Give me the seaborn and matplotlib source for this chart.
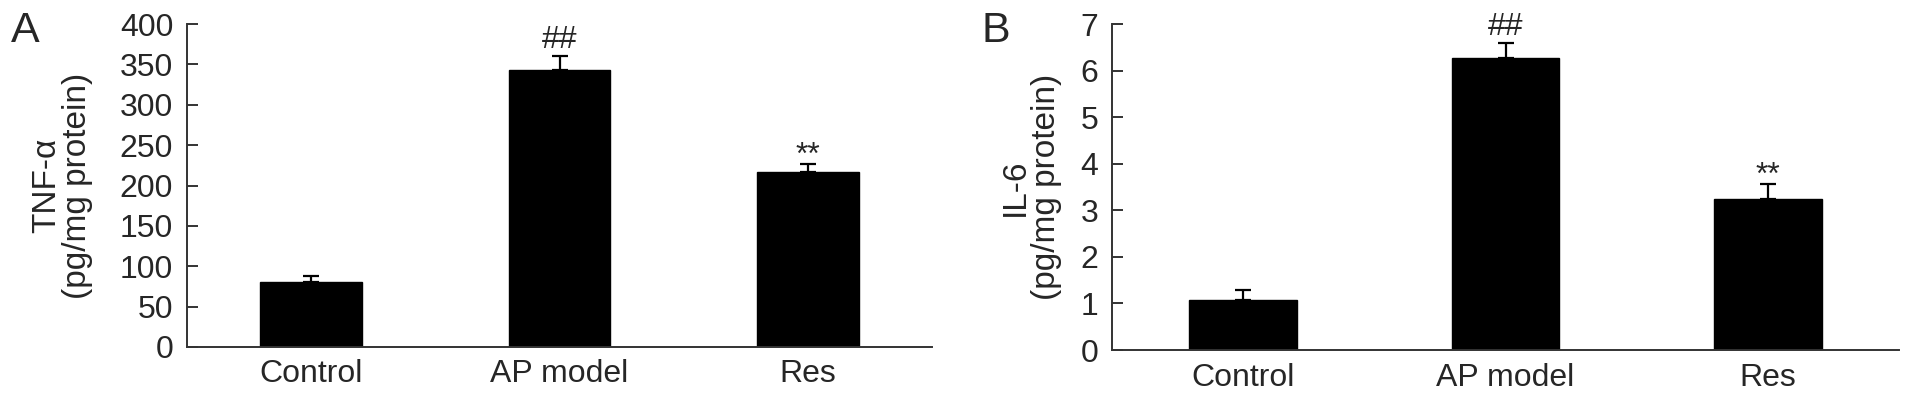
import matplotlib
matplotlib.use("Agg")
import matplotlib.pyplot as plt
import seaborn as sns
import pandas as pd

sns.set_style("white")
plt.rcParams["font.family"] = ["Liberation Sans", "DejaVu Sans"]

# Data
groups = ["Control", "AP model", "Res"]
tnf_mean = [81, 343, 217]
tnf_sd = [7, 17, 10]
il6_mean = [1.08, 6.26, 3.24]
il6_sd = [0.21, 0.33, 0.33]
marks = ["", "##", "**"]

fig = plt.figure(figsize=(19.13, 4), dpi=100)
axA = fig.add_axes([0.0978, 0.1325, 0.3894, 0.8075])
axB = fig.add_axes([0.5813, 0.125, 0.4114, 0.815])


def panel(ax, means, sds, ylabel, ymax, ystep, labx):
    df = pd.DataFrame({"group": groups, "value": means})
    sns.barplot(data=df, x="group", y="value", color="black", saturation=1,
                width=0.41, errorbar=None, edgecolor="black", ax=ax)
    ax.errorbar(range(len(groups)), means, yerr=[[0] * len(sds), sds],
                fmt="none", ecolor="black", elinewidth=1.6, capsize=5.5,
                capthick=1.6)
    for i, m in enumerate(marks):
        if m:
            # stars sit high in the glyph box, hashes sit on the baseline
            off = 6 if m.startswith("#") else 0
            ax.annotate(m, (i, means[i] + sds[i]), xytext=(0, off),
                        textcoords="offset points", ha="center",
                        va="baseline", fontsize=23)
    ax.set_xlim(-0.5, 2.5)
    ax.set_ylim(0, ymax)
    ax.set_yticks([ystep * k for k in range(int(round(ymax / ystep)) + 1)])
    ax.set_xticks([-0.5, 0.5, 1.5, 2.5], minor=True)
    ax.tick_params(axis="x", which="major", length=0, pad=9, labelsize=23)
    ax.tick_params(axis="x", which="minor", direction="in", length=8,
                   width=1.4, color="#333333")
    ax.tick_params(axis="y", direction="in", length=8, width=1.4,
                   color="#333333", pad=10, labelsize=23, left=True)
    ax.set_xlabel("")
    ax.set_ylabel(ylabel, fontsize=24, linespacing=1.0)
    ax.yaxis.set_label_coords(labx, 0.5)
    sns.despine(ax=ax)
    for s in ["left", "bottom"]:
        ax.spines[s].set_color("#333333")
        ax.spines[s].set_linewidth(1.4)


panel(axA, tnf_mean, tnf_sd, "TNF-α\n(pg/mg protein)", 400, 50, -0.126)
panel(axB, il6_mean, il6_sd, "IL-6\n(pg/mg protein)", 7, 1, -0.064)

fig.text(11 / 1913, 1 - 11 / 400, "A", fontsize=31, va="top", ha="left")
fig.text(982 / 1913, 1 - 11 / 400, "B", fontsize=31, va="top", ha="left")

plt.savefig("out.png", dpi=100)
